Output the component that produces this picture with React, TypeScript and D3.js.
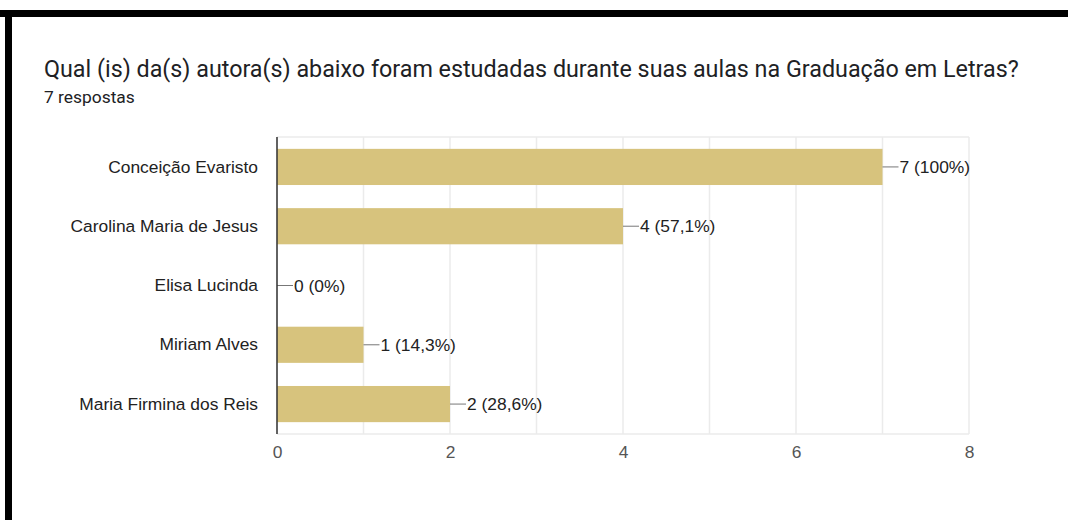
import React, { useEffect, useRef } from 'react';
import * as d3 from 'd3';

const categories = [
  'Conceição Evaristo',
  'Carolina Maria de Jesus',
  'Elisa Lucinda',
  'Miriam Alves',
  'Maria Firmina dos Reis',
];
const counts = [7, 4, 0, 1, 2];
const percents = ['100%', '57,1%', '0%', '14,3%', '28,6%'];
const tickValues = [0, 2, 4, 6, 8];
const gridValues = [0, 1, 2, 3, 4, 5, 6, 7, 8];

const title = 'Qual (is) da(s) autora(s) abaixo foram estudadas durante suas aulas na Graduação em Letras?';
const subtitle = '7 respostas';

const App = () => {
  const svgRef = useRef<SVGSVGElement>(null);

  useEffect(() => {
    const width = 1068;
    const height = 520;
    const margin = { top: 137, right: 99, bottom: 86, left: 277 };
    const innerW = width - margin.left - margin.right;
    const innerH = height - margin.top - margin.bottom;
    const font = 'Liberation Sans, Arial';

    const root = d3.select(svgRef.current);
    root.selectAll('*').remove();

    // frame
    root.append('rect').attr('width', width).attr('height', height).attr('fill', '#fff');
    root.append('rect').attr('x', 0).attr('y', 10).attr('width', width).attr('height', 7).attr('fill', '#000');
    root.append('rect').attr('x', 5).attr('y', 10).attr('width', 7).attr('height', height - 10).attr('fill', '#000');

    root
      .append('text')
      .attr('x', 44)
      .attr('y', 77)
      .attr('font-family', 'Roboto')
      .attr('font-size', 23.3)
      .attr('fill', '#202124')
      .text(title);
    root
      .append('text')
      .attr('x', 44)
      .attr('y', 103)
      .attr('font-family', 'Roboto')
      .attr('font-size', 17.4)
      .attr('fill', '#202124')
      .text(subtitle);

    const x = d3.scaleLinear().domain([0, 8]).range([0, innerW]);
    const y = d3.scaleBand().domain(categories).range([0, innerH]).paddingInner(0.39).paddingOuter(0.2);

    const g = root.append('g').attr('transform', `translate(${margin.left},${margin.top})`);

    // grid
    g.selectAll('.grid')
      .data(gridValues)
      .enter()
      .append('line')
      .attr('x1', (d) => x(d))
      .attr('x2', (d) => x(d))
      .attr('y1', 0)
      .attr('y2', innerH)
      .attr('stroke', '#ebebeb')
      .attr('stroke-width', 1.5);
    g.append('line').attr('x1', 0).attr('x2', innerW).attr('y1', 0).attr('y2', 0).attr('stroke', '#ebebeb').attr('stroke-width', 1.5);
    g.append('line').attr('x1', 0).attr('x2', innerW).attr('y1', innerH).attr('y2', innerH).attr('stroke', '#ebebeb').attr('stroke-width', 1.5);

    const data = categories.map((c, i) => ({ c, v: counts[i], p: percents[i] }));

    g.selectAll('.bar')
      .data(data)
      .enter()
      .append('rect')
      .attr('x', 0)
      .attr('y', (d) => y(d.c)!)
      .attr('width', (d) => x(d.v))
      .attr('height', y.bandwidth())
      .attr('fill', '#d7c37d');

    // leader lines + value labels
    g.selectAll('.lead')
      .data(data)
      .enter()
      .append('line')
      .attr('x1', (d) => x(d.v))
      .attr('x2', (d) => x(d.v) + 16)
      .attr('y1', (d) => y(d.c)! + y.bandwidth() / 2)
      .attr('y2', (d) => y(d.c)! + y.bandwidth() / 2)
      .attr('stroke', '#777')
      .attr('stroke-width', 1);
    g.selectAll('.val')
      .data(data)
      .enter()
      .append('text')
      .attr('x', (d) => x(d.v) + 17)
      .attr('y', (d) => y(d.c)! + y.bandwidth() / 2)
      .attr('dy', '0.35em')
      .attr('font-family', font)
      .attr('font-size', 17.4)
      .attr('fill', '#222')
      .text((d) => `${d.v} (${d.p})`);

    // y axis
    const yAxis = g.append('g').call(d3.axisLeft(y).tickSize(0).tickPadding(19));
    yAxis.select('.domain').remove();
    yAxis
      .selectAll('text')
      .attr('font-family', font)
      .attr('font-size', 17.4)
      .attr('fill', '#222');
    g.append('line').attr('x1', 0).attr('x2', 0).attr('y1', 0).attr('y2', innerH).attr('stroke', '#333').attr('stroke-width', 1.5);

    // x axis
    const xAxis = g
      .append('g')
      .attr('transform', `translate(0,${innerH})`)
      .call(d3.axisBottom(x).tickValues(tickValues).tickSize(0).tickPadding(12));
    xAxis.select('.domain').remove();
    xAxis
      .selectAll('text')
      .attr('font-family', font)
      .attr('font-size', 17.4)
      .attr('fill', '#555');
  }, []);

  return (
    <svg
      ref={svgRef}
      width={1068}
      height={520}
      style={{ position: 'absolute', left: 0, top: 0, display: 'block' }}
    ></svg>
  );
};

export default App;
